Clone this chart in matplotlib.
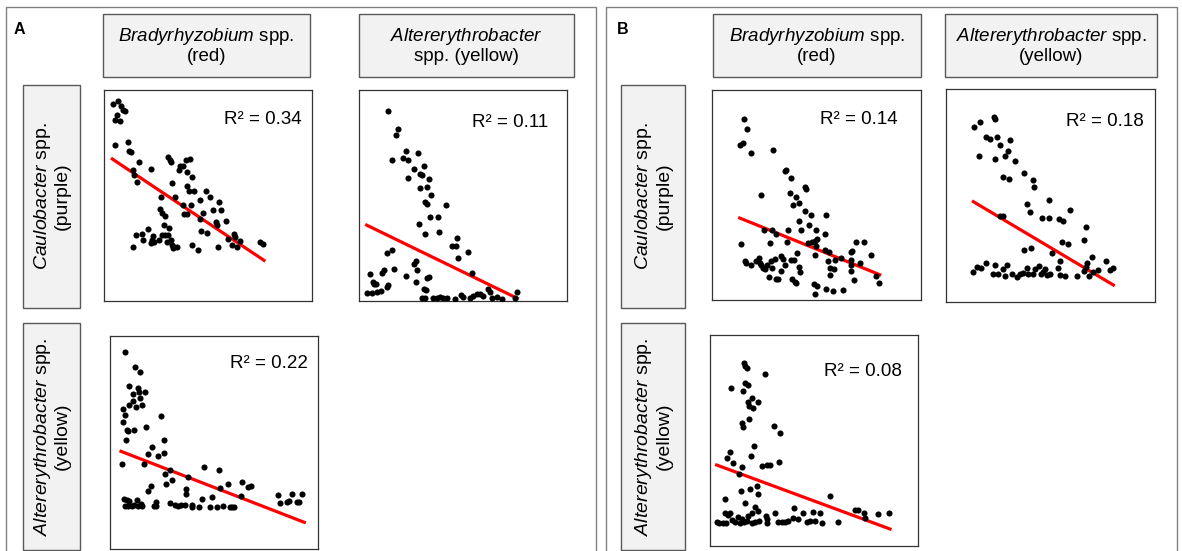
# scatter grid of pairwise abundances (panels A and B) with linear fits
import matplotlib
matplotlib.use('Agg')
import matplotlib.pyplot as plt
from matplotlib.patches import Rectangle

plt.rcParams['font.family'] = ['Liberation Sans', 'DejaVu Sans']
plt.rcParams['mathtext.fontset'] = 'custom'
plt.rcParams['mathtext.rm'] = 'Liberation Sans'
plt.rcParams['mathtext.it'] = 'Liberation Sans:italic'

W, H = 1182, 551

# ---- data (arbitrary units, y grows downward) ----
# panel A, Bradyrhyzobium (x) vs Caulobacter (y)
a_bc_x = [38, 55, 62, 68, 76, 52, 45, 60, 44, 83, 88, 93, 118, 98, 103, 112, 154,
          203, 210, 213, 258, 270, 240, 236, 248, 262, 275, 217, 260, 268, 282, 183,
          226, 318, 330, 300, 274, 358, 180, 186, 196, 250, 252, 262, 340, 362, 310,
          300, 378, 348, 352, 192, 208, 196, 205, 212, 202, 215, 222, 230, 220, 304,
          322, 108, 126, 128, 145, 160, 155, 152, 163, 178, 186, 98, 275, 293, 355,
          384, 402, 405, 395, 410, 420, 480, 490]
a_bc_y = [47, 40, 55, 65, 70, 80, 97, 98, 171, 163, 188, 193, 222, 245, 262, 281, 242,
          207, 215, 222, 215, 212, 235, 246, 233, 252, 268, 285, 295, 310, 310, 326,
          327, 310, 328, 337, 350, 343, 362, 375, 385, 350, 378, 378, 365, 366, 376,
          392, 398, 402, 410, 410, 420, 440, 440, 455, 462, 472, 478, 478, 480, 428,
          435, 440, 437, 455, 424, 445, 456, 465, 462, 457, 440, 477, 470, 486, 476,
          452, 438, 448, 470, 478, 460, 461, 467]
a_bc_fit_x = [37, 492]
a_bc_fit_y = [213, 517]

# panel A, Altererythrobacter (x) vs Caulobacter (y)
a_ac_x = [100, 130, 123, 110, 143, 153, 160, 188, 207, 178, 195, 200, 222, 160, 195,
          215, 228, 210, 215, 272, 225, 250, 192, 210, 253, 305, 292, 302, 338, 308,
          110, 97, 117, 88, 80, 45, 55, 62, 58, 100, 95, 78, 65, 50, 35, 183, 178,
          185, 153, 215, 222, 182, 208, 212, 350, 200, 210, 235, 245, 255, 265, 275,
          300, 318, 325, 345, 355, 365, 375, 385, 400, 405, 412, 425, 440, 487, 480]
a_ac_y = [70, 122, 142, 215, 210, 190, 215, 196, 233, 242, 258, 260, 273, 270, 300,
          298, 320, 343, 350, 352, 388, 388, 410, 440, 433, 451, 476, 476, 492, 512,
          486, 496, 545, 548, 555, 560, 582, 588, 590, 593, 597, 610, 614, 617, 617,
          520, 530, 548, 564, 572, 568, 583, 604, 607, 556, 632, 630, 632, 630, 628,
          632, 630, 634, 622, 628, 630, 626, 620, 618, 624, 605, 612, 632, 628, 634,
          612, 632]
a_ac_fit_x = [35, 487]
a_ac_fit_y = [412, 632]

# panel A, Bradyrhyzobium (x) vs Altererythrobacter (y)
a_ba_x = [60, 90, 106, 73, 98, 120, 83, 103, 106, 83, 73, 93, 112, 55, 60, 53, 65, 68,
          87, 122, 167, 63, 177, 142, 128, 177, 160, 50, 118, 180, 195, 200, 183, 248,
          242, 242, 297, 343, 345, 368, 412, 430, 438, 408, 322, 292, 138, 128, 152,
          148, 58, 65, 72, 95, 60, 70, 80, 88, 98, 108, 110, 152, 195, 210, 218, 228,
          240, 260, 262, 283, 315, 335, 355, 375, 380, 388, 518, 525, 545, 552, 562,
          575, 583, 590]
a_ba_y = [58, 103, 117, 158, 165, 176, 182, 178, 195, 203, 216, 223, 217, 228, 246,
          267, 290, 293, 290, 283, 250, 322, 322, 342, 364, 360, 370, 393, 393, 422,
          410, 440, 452, 432, 468, 482, 403, 410, 465, 453, 448, 462, 458, 490, 492,
          497, 458, 475, 508, 518, 497, 500, 503, 500, 520, 518, 520, 517, 518, 512,
          520, 518, 510, 515, 520, 517, 516, 515, 522, 523, 523, 522, 520, 522, 522,
          522, 485, 510, 507, 503, 482, 508, 507, 482]
a_ba_fit_x = [48, 598]
a_ba_fit_y = [355, 568]

# panel B, Bradyrhyzobium (x) vs Caulobacter (y)
b_bc_x = [108, 118, 95, 105, 130, 196, 230, 233, 248, 292, 293, 160, 247, 265, 273,
          255, 292, 310, 355, 273, 302, 278, 325, 350, 168, 193, 240, 205, 186, 237,
          300, 312, 320, 327, 325, 350, 267, 322, 362, 380, 360, 400, 428, 433, 443,
          468, 490, 98, 110, 115, 130, 145, 152, 155, 160, 165, 172, 178, 190, 192,
          200, 220, 225, 232, 248, 258, 273, 275, 220, 183, 205, 210, 253, 262, 265,
          318, 328, 322, 355, 375, 405, 365, 365, 378, 428, 430, 430, 455, 437, 505,
          512]
b_bc_y = [92, 124, 170, 165, 195, 185, 250, 247, 270, 296, 302, 322, 316, 328, 345,
          352, 368, 380, 380, 398, 412, 425, 427, 437, 427, 425, 427, 438, 465, 462,
          466, 462, 458, 453, 475, 485, 495, 502, 493, 515, 518, 510, 493, 490, 462,
          462, 500, 467, 520, 525, 530, 518, 510, 525, 532, 540, 543, 530, 518, 540,
          512, 505, 513, 530, 515, 516, 536, 553, 548, 568, 572, 573, 573, 582, 585,
          588, 593, 618, 604, 610, 607, 540, 560, 543, 515, 530, 548, 525, 576, 565,
          585]
b_bc_fit_x = [95, 515]
b_bc_fit_y = [390, 560]

# panel B, Altererythrobacter (x) vs Caulobacter (y)
b_ac_x = [283, 300, 342, 345, 318, 330, 352, 360, 390, 297, 345, 375, 385, 405, 433,
          458, 462, 370, 388, 440, 450, 508, 570, 360, 370, 485, 508, 538, 550, 618,
          612, 545, 563, 433, 453, 515, 540, 637, 678, 622, 618, 690, 698, 612, 628,
          655, 640, 278, 290, 302, 318, 345, 338, 355, 370, 380, 375, 395, 410, 420,
          430, 440, 445, 460, 465, 478, 483, 490, 495, 500, 510, 535, 540, 555, 590]
b_ac_y = [127, 110, 95, 103, 157, 162, 157, 180, 165, 212, 222, 212, 198, 228, 264,
          286, 305, 276, 282, 358, 382, 345, 375, 393, 393, 400, 398, 402, 407, 427,
          465, 470, 478, 495, 488, 505, 527, 515, 527, 535, 545, 556, 550, 558, 573,
          555, 560, 560, 545, 550, 535, 540, 568, 568, 553, 540, 573, 568, 575, 568,
          565, 548, 568, 568, 553, 543, 568, 560, 553, 570, 568, 548, 570, 572, 572]
b_ac_fit_x = [280, 700]
b_ac_fit_y = [350, 600]

# panel B, Bradyrhyzobium (x) vs Altererythrobacter (y)
b_ba_x = [116, 120, 125, 180, 120, 128, 113, 78, 140, 160, 130, 133, 143, 110, 113,
          133, 208, 225, 148, 75, 65, 85, 138, 110, 170, 185, 195, 222, 103, 157, 135,
          108, 160, 60, 120, 150, 160, 140, 60, 75, 70, 35, 42, 55, 62, 82, 90, 100,
          110, 105, 118, 125, 130, 140, 150, 162, 182, 185, 187, 210, 220, 230, 240,
          248, 265, 268, 280, 295, 305, 315, 325, 330, 345, 350, 375, 398, 450, 460,
          478, 480, 520, 553]
b_ba_y = [98, 108, 115, 133, 158, 165, 183, 173, 203, 215, 215, 228, 233, 280, 290,
          268, 287, 310, 348, 365, 385, 398, 378, 410, 408, 405, 405, 395, 432, 468,
          478, 483, 492, 508, 518, 530, 542, 548, 548, 548, 555, 575, 578, 578, 580,
          570, 575, 560, 568, 578, 575, 572, 558, 578, 575, 573, 558, 568, 578, 550,
          575, 575, 575, 572, 565, 535, 568, 550, 575, 572, 545, 572, 548, 578, 498,
          576, 540, 540, 548, 565, 553, 550]
b_ba_fit_x = [35, 555]
b_ba_fit_y = [405, 597]

r2_labels = ['R² = 0.34', 'R² = 0.11', 'R² = 0.22', 'R² = 0.14', 'R² = 0.18', 'R² = 0.08']

col_labels = [r'$\mathit{Bradyrhyzobium}$ spp.' + '\n(red)',
              r'$\mathit{Altererythrobacter}$' + '\nspp. (yellow)',
              r'$\mathit{Bradyrhyzobium}$ spp.' + '\n(red)',
              r'$\mathit{Altererythrobacter}$ spp.' + '\n(yellow)']
row_labels = [r'$\mathit{Caulobacter}$ spp.' + '\n(purple)',
              r'$\mathit{Altererythrobacter}$ spp.' + '\n(yellow)']

# ---- layout (pixels) ----
FS = 13.5       # R² labels
FS_COL = 13.5   # column headers
FS_ROW = 14.0   # row headers


def px_axes(fig, x0, y0, x1, y1):
    return fig.add_axes([x0 / W, 1 - y1 / H, (x1 - x0) / W, (y1 - y0) / H])


def scatter_panel(fig, rect, xlim, ylim, xs, ys, fx, fy, r2, txy):
    ax = px_axes(fig, *rect)
    ax.plot(fx, fy, '-', color='#ff0000', lw=2.3, zorder=2)
    ax.plot(xs, ys, 'o', color='black', ms=4.4, mew=0, zorder=3)
    ax.text(txy[0], txy[1], r2, ha='right', va='center', fontsize=FS)
    ax.set_xlim(*xlim)
    ax.set_ylim(*ylim)
    ax.set_xticks([])
    ax.set_yticks([])
    for s in ax.spines.values():
        s.set_color('#333333')
        s.set_linewidth(0.9)
    return ax


fig = plt.figure(figsize=(W / 100, H / 100), dpi=100)
bg = fig.add_axes([0, 0, 1, 1])
bg.set_xlim(0, W)
bg.set_ylim(H, 0)
bg.axis('off')

# panel frames
for x0, x1 in [(6, 596), (606, 1177)]:
    bg.add_patch(Rectangle((x0, 7), x1 - x0, H + 10, fill=False,
                           edgecolor='#808080', lw=1.0))
bg.text(14, 30, 'A', fontsize=11.5, fontweight='bold', va='center')
bg.text(617, 30, 'B', fontsize=11.5, fontweight='bold', va='center')

# column header boxes
for (x0, x1), lab in zip([(103, 310), (359, 574), (713, 921), (945, 1157)], col_labels):
    bg.add_patch(Rectangle((x0, 14), x1 - x0, 63, facecolor='#f2f2f2',
                           edgecolor='#595959', lw=1.0))
    bg.text((x0 + x1) / 2, 45.5, lab, ha='center', va='center', fontsize=FS_COL,
            linespacing=1.1)

# row header boxes
for (x0, x1) in [(23, 80), (621, 685)]:
    for (y0, y1), lab in zip([(85, 308), (323, 550)], row_labels):
        bg.add_patch(Rectangle((x0, y0), x1 - x0, y1 - y0, facecolor='#f2f2f2',
                               edgecolor='#595959', lw=1.0))
        bg.text((x0 + x1) / 2, (y0 + y1) / 2, lab, ha='center', va='center',
                fontsize=FS_ROW, rotation=90, linespacing=1.1)

scatter_panel(fig, (104, 90, 312, 301), (12, 636), (639, 6),
              a_bc_x, a_bc_y, a_bc_fit_x, a_bc_fit_y, r2_labels[0], (606, 95))
scatter_panel(fig, (359, 90, 567, 301), (12, 636), (640, 6),
              a_ac_x, a_ac_y, a_ac_fit_x, a_ac_fit_y, r2_labels[1], (579, 105))
scatter_panel(fig, (110, 336, 318, 549), (15, 639), (648, 9),
              a_ba_x, a_ba_y, a_ba_fit_x, a_ba_fit_y, r2_labels[2], (610, 90))
scatter_panel(fig, (712, 90, 921, 300), (12, 639), (636, 6),
              b_bc_x, b_bc_y, b_bc_fit_x, b_bc_fit_y, r2_labels[3], (570, 95))
scatter_panel(fig, (946, 89, 1155, 302), (198, 825), (651, 12),
              b_ac_x, b_ac_y, b_ac_fit_x, b_ac_fit_y, r2_labels[4], (790, 108))
scatter_panel(fig, (710, 335, 918, 546), (15, 639), (648, 15),
              b_ba_x, b_ba_y, b_ba_fit_x, b_ba_fit_y, r2_labels[5], (590, 123))

fig.savefig('out.png', dpi=100)
